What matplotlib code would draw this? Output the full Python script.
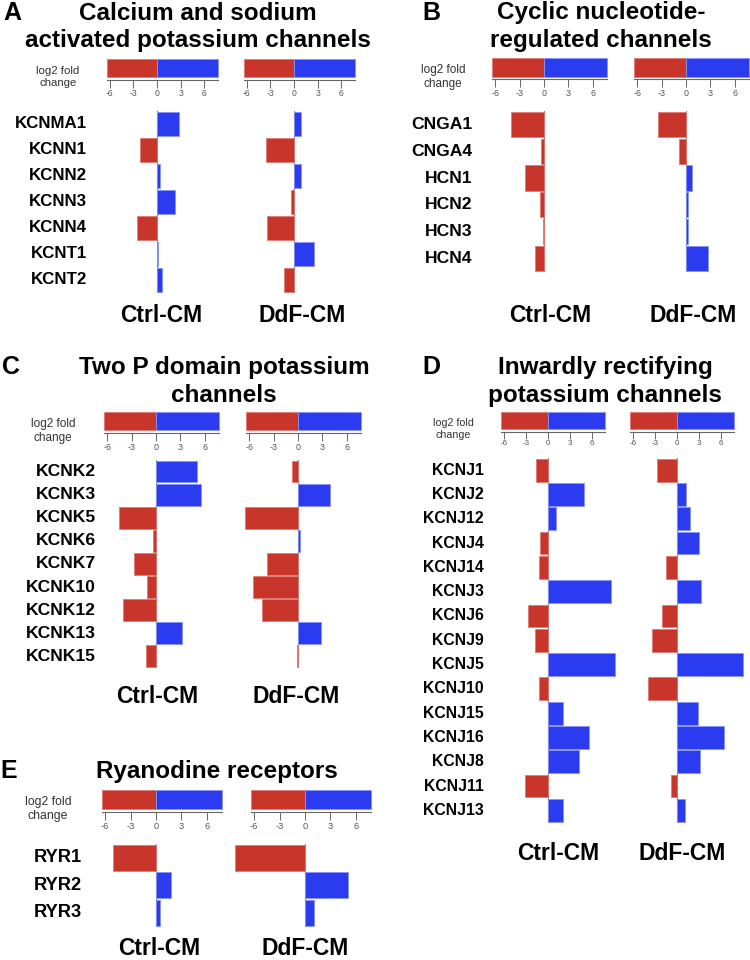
import matplotlib
matplotlib.use("Agg")
import matplotlib.pyplot as plt
import matplotlib.transforms as mtransforms

plt.rcParams['font.family'] = ['Liberation Sans', 'DejaVu Sans']
plt.rcParams['axes.unicode_minus'] = False

# ---- data (log2 fold change) ----
genes_a = ['KCNMA1', 'KCNN1', 'KCNN2', 'KCNN3', 'KCNN4', 'KCNT1', 'KCNT2']
ctrl_a = [2.8, -2.2, 0.4, 2.35, -2.5, 0.1, 0.7]
ddf_a = [0.9, -3.6, 0.9, -0.4, -3.4, 2.5, -1.3]

genes_b = ['CNGA1', 'CNGA4', 'HCN1', 'HCN2', 'HCN3', 'HCN4']
ctrl_b = [-4.1, -0.35, -2.3, -0.5, -0.1, -1.1]
ddf_b = [-3.4, -0.9, 0.8, 0.25, 0.3, 2.7]

genes_c = ['KCNK2', 'KCNK3', 'KCNK5', 'KCNK6', 'KCNK7', 'KCNK10', 'KCNK12',
           'KCNK13', 'KCNK15']
ctrl_c = [5.0, 5.5, -4.6, -0.35, -2.7, -1.1, -4.1, 3.2, -1.2]
ddf_c = [-0.8, 4.0, -6.5, 0.3, -3.8, -5.5, -4.4, 2.9, -0.15]

genes_d = ['KCNJ1', 'KCNJ2', 'KCNJ12', 'KCNJ4', 'KCNJ14', 'KCNJ3', 'KCNJ6',
           'KCNJ9', 'KCNJ5', 'KCNJ10', 'KCNJ15', 'KCNJ16', 'KCNJ8', 'KCNJ11',
           'KCNJ13']
ctrl_d = [-1.65, 4.9, 1.15, -1.1, -1.3, 8.6, -2.8, -1.8, 9.2, -1.3, 2.0,
          5.6, 4.2, -3.1, 2.05]
ddf_d = [-2.8, 1.2, 1.8, 3.0, -1.55, 3.3, -2.1, -3.45, 9.0, -4.0, 2.9,
         6.4, 3.1, -0.85, 1.05]

genes_e = ['RYR1', 'RYR2', 'RYR3']
ctrl_e = [-5.1, 1.8, 0.45]
ddf_e = [-8.3, 5.05, 1.1]

legend_range = [-6.4, 7.8]
legend_ticks = [-6, -3, 0, 3, 6]
groups = ['Ctrl-CM', 'DdF-CM']

RED = '#c8352b'
BLUE = '#2b3cf0'
RED_EDGE = '#e07a72'
BLUE_EDGE = '#8a94f7'

W, H = 750, 960
fig = plt.figure(figsize=(W / 100, H / 100), dpi=100)


def add_ax(left, top, width, height):
    return fig.add_axes([left / W, 1 - (top + height) / H, width / W, height / H])


def ftext(x, y, s, **kw):
    fig.text(x / W, 1 - y / H, s, **kw)


def panel(letter, letter_x, title_lines, title_x, title_base, log_x, log_base,
          zeros, scale, bar_top, bar_bot, line_y, genes, values, label_x,
          row_top, row_h, group_x, group_base):
    k = scale / 7.85
    ftext(letter_x, title_base[0], letter, fontsize=18, fontweight='bold',
          ha='left', va='baseline')
    for line, yb in zip(title_lines, title_base):
        ftext(title_x, yb, line, fontsize=17.5, fontweight='bold',
              ha='center', va='baseline')
    ftext(log_x, log_base[0], 'log2 fold', fontsize=8.2 * k, color='#333333',
          ha='center', va='baseline')
    ftext(log_x, log_base[1], 'change', fontsize=8.2 * k, color='#333333',
          ha='center', va='baseline')

    n = len(genes)
    for z, vals, gname, gx in zip(zeros, values, groups, group_x):
        half = 11 * scale
        # colour key
        lax = add_ax(z - half, bar_top, 2 * half, line_y - bar_top)
        lax.set_xlim(-11, 11)
        lax.set_ylim(0, 1)
        frac = (bar_bot - bar_top) / (line_y - bar_top)
        lax.barh([1 - frac / 2], [-legend_range[0]], left=[legend_range[0]],
                 height=frac, color=RED, edgecolor=RED_EDGE, linewidth=0.6)
        lax.barh([1 - frac / 2], [legend_range[1]], left=[0],
                 height=frac, color=BLUE, edgecolor=BLUE_EDGE, linewidth=0.6)
        for s in ['top', 'left', 'right']:
            lax.spines[s].set_visible(False)
        lax.spines['bottom'].set_bounds(legend_range[0], legend_range[1])
        lax.spines['bottom'].set_color('#666666')
        lax.spines['bottom'].set_linewidth(0.8)
        lax.set_yticks([])
        lax.set_xticks(legend_ticks)
        lax.set_xticklabels([str(t) for t in legend_ticks])
        lax.tick_params(axis='x', length=5.5 * k, width=0.7, color='#666666',
                        labelsize=6.2 * k, labelcolor='#555555', pad=1)
        lax.patch.set_visible(False)

        # bars
        dax = add_ax(z - half, row_top, 2 * half, n * row_h)
        dax.set_xlim(-11, 11)
        dax.set_ylim(n - 0.5, -0.5)
        cols = [BLUE if v > 0 else RED for v in vals]
        edges = [BLUE_EDGE if v > 0 else RED_EDGE for v in vals]
        dax.barh(range(n), vals, height=0.94, color=cols, edgecolor=edges,
                 linewidth=0.6)
        dax.axvline(0, color='#888888', linewidth=0.8, zorder=0.5)
        dax.axis('off')

        ftext(gx, group_base, gname, fontsize=16.5, fontweight='bold',
              ha='center', va='baseline')

        if gname == 'Ctrl-CM':
            tr = mtransforms.blended_transform_factory(fig.transFigure,
                                                       dax.transData)
            for i, g in enumerate(genes):
                dax.text(label_x / W, i, g, transform=tr, ha='right',
                         va='center', fontsize=12.2 * k, fontweight='bold')


panel('A', 3, ['Calcium and sodium', 'activated potassium channels'], 198,
      [19.5, 46.7], 58, [73.5, 86.5], [157, 294], 7.85, 59.3, 77.3, 80,
      genes_a, [ctrl_a, ddf_a], 87, 111, 26.0, [161, 302], 322)

panel('B', 422, ['Cyclic nucleotide-', 'regulated channels'], 601,
      [19.5, 46.7], 443, [73.5, 86.5], [544, 686], 8.1, 57.7, 76.7, 79.3,
      genes_b, [ctrl_b, ddf_b], 472, 111, 26.8, [550, 693], 322)

panel('C', 2, ['Two P domain potassium', 'channels'], 224,
      [374.3, 401.7], 53, [427, 440.5], [156, 298], 8.1, 411.7, 430, 433.3,
      genes_c, [ctrl_c, ddf_c], 96, 460, 23.1, [157, 296], 703)

panel('D', 422, ['Inwardly rectifying', 'potassium channels'], 605,
      [374.3, 401.7], 453, [426, 438.3], [548, 677], 7.3, 411.7, 429, 431.7,
      genes_d, [ctrl_d, ddf_d], 484, 458, 24.3, [558, 682], 860)

panel('E', 0, ['Ryanodine receptors'], 217,
      [778], 48, [805, 819], [156, 305], 8.47, 790, 809, 812.3,
      genes_e, [ctrl_e, ddf_e], 82, 844, 27.6, [159, 305], 955)

fig.savefig('out.png', dpi=100)
